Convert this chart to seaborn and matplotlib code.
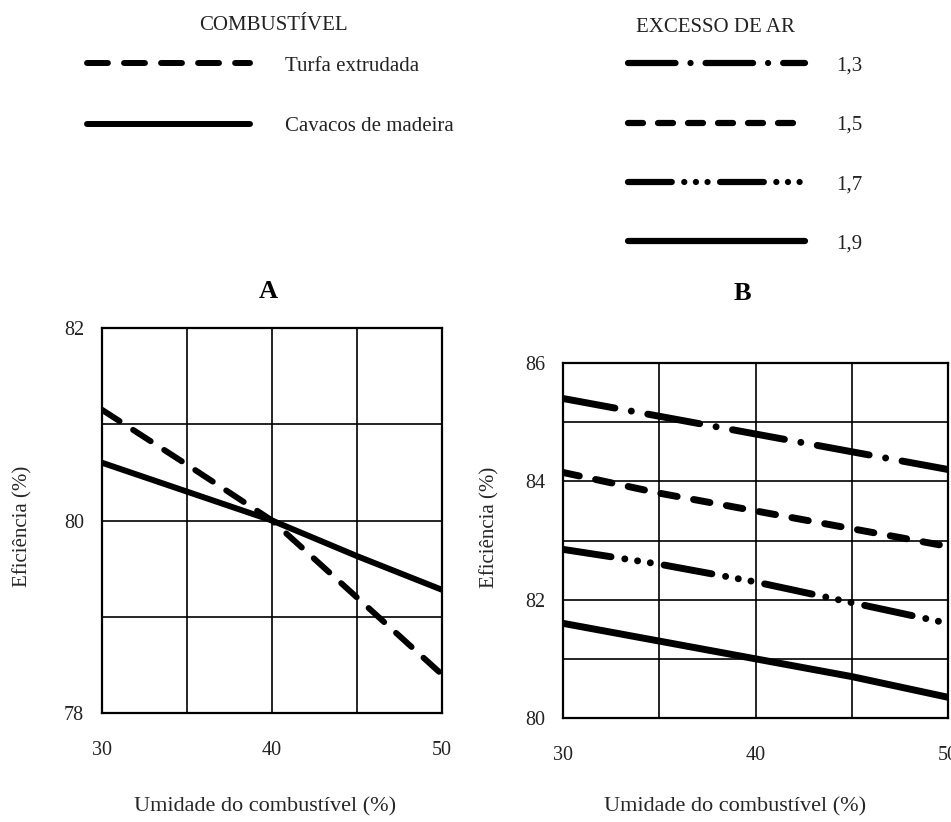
import numpy as np
import pandas as pd
import matplotlib.pyplot as plt
import seaborn as sns
from matplotlib.lines import Line2D
from matplotlib.ticker import MultipleLocator

# umidade do combustivel (%)
umidade = [30, 35, 40, 45, 50]

# painel A: eficiencia por combustivel
combustiveis = ['Turfa extrudada', 'Cavacos de madeira']
turfa = [81.15, 80.58, 80.0, 79.2, 78.4]
cavacos = [80.6, 80.3, 80.0, 79.63, 79.28]

# painel B: eficiencia por excesso de ar
excessos = ['1,3', '1,5', '1,7', '1,9']
ar_13 = [85.4, 85.1, 84.8, 84.5, 84.2]
ar_15 = [84.15, 83.8, 83.5, 83.2, 82.9]
ar_17 = [82.85, 82.6, 82.3, 81.95, 81.6]
ar_19 = [81.6, 81.3, 81.0, 80.7, 80.35]

df_a = pd.DataFrame({
    'umidade': umidade * 2,
    'eficiencia': turfa + cavacos,
    'combustivel': np.repeat(combustiveis, len(umidade)),
})
df_b = pd.DataFrame({
    'umidade': umidade * 4,
    'eficiencia': ar_13 + ar_15 + ar_17 + ar_19,
    'excesso': np.repeat(excessos, len(umidade)),
})

dash_a = {'Turfa extrudada': (3.5, 2.7), 'Cavacos de madeira': ''}
dash_b = {'1,3': (7.6, 2.4, 0.01, 2.4),
          '1,5': (2.4, 2.4),
          '1,7': (7.0, 2.0, 0.01, 1.85, 0.01, 1.85, 0.01, 2.0),
          '1,9': ''}

sns.set_style('white')
plt.rcParams['font.family'] = ['Liberation Serif', 'DejaVu Serif']
plt.rcParams['text.color'] = '#222222'

fig = plt.figure(figsize=(9.51, 8.22), dpi=100)
W, H = 951, 822


def px_axes(left, top, right, bottom):
    return fig.add_axes([left / W, 1 - bottom / H, (right - left) / W, (bottom - top) / H])


ax_a = px_axes(102, 328, 442, 713)
ax_b = px_axes(563, 363, 948, 718)

line_kw = dict(color='black', errorbar=None, legend=False,
               dash_capstyle='round', solid_capstyle='round')
sns.lineplot(data=df_a, x='umidade', y='eficiencia', style='combustivel',
             style_order=combustiveis, dashes=dash_a, lw=4.3, ax=ax_a, **line_kw)
sns.lineplot(data=df_b, x='umidade', y='eficiencia', style='excesso',
             style_order=excessos, dashes=dash_b, lw=5.0, ax=ax_b, **line_kw)

# eixos
ax_a.set_xlim(30, 50)
ax_a.set_ylim(78, 82)
ax_a.xaxis.set_major_locator(MultipleLocator(10))
ax_a.xaxis.set_minor_locator(MultipleLocator(5))
ax_a.yaxis.set_major_locator(MultipleLocator(2))
ax_a.yaxis.set_minor_locator(MultipleLocator(1))

ax_b.set_xlim(30, 50)
ax_b.set_ylim(80, 86)
ax_b.xaxis.set_major_locator(MultipleLocator(10))
ax_b.xaxis.set_minor_locator(MultipleLocator(5))
ax_b.yaxis.set_major_locator(MultipleLocator(2))
ax_b.yaxis.set_minor_locator(MultipleLocator(1))

for ax in (ax_a, ax_b):
    ax.grid(True, which='both', color='black', lw=1.2)
    for s in ax.spines.values():
        s.set_color('black')
        s.set_linewidth(1.6)
    ax.tick_params(axis='both', which='major', direction='out', colors='black',
                   labelcolor='#222222', labelsize=14.5, width=1.6)
    ax.tick_params(axis='x', which='major', length=10, pad=10)
    ax.tick_params(axis='x', which='minor', length=0)

ax_a.tick_params(axis='y', which='major', length=10, pad=3)
ax_a.tick_params(axis='y', which='minor', length=0)
ax_b.tick_params(axis='y', which='major', length=11, pad=2)
ax_b.tick_params(axis='y', which='minor', length=11, width=1.6, color='black')

ax_a.set_xlabel('Umidade do combustível (%)', fontsize=16)
ax_a.set_ylabel('Eficiência (%)', fontsize=15)
ax_a.xaxis.set_label_coords(0.479, -0.218)
ax_a.yaxis.set_label_coords(-0.203, 0.486)
ax_b.set_xlabel('Umidade do combustível (%)', fontsize=16)
ax_b.set_ylabel('Eficiência (%)', fontsize=15)
ax_b.xaxis.set_label_coords(0.447, -0.223)
ax_b.yaxis.set_label_coords(-0.164, 0.538)

fig.text(268 / W, 1 - 291 / H, 'A', ha='center', va='center',
         fontsize=19, fontweight='bold', color='black')
fig.text(742 / W, 1 - 294 / H, 'B', ha='center', va='center',
         fontsize=19, fontweight='bold', color='black')

# legendas
fig.text(273 / W, 1 - 25 / H, 'COMBUSTÍVEL', ha='center', va='center', fontsize=15)
fig.text(715 / W, 1 - 27 / H, 'EXCESSO DE AR', ha='center', va='center', fontsize=15)


def handle(d, lw):
    if d == '':
        return Line2D([], [], color='black', lw=lw, ls='-', solid_capstyle='round')
    return Line2D([], [], color='black', lw=lw, dashes=d, dash_capstyle='round')


leg_a = fig.legend([handle(dash_a[c], 4.3) for c in combustiveis], combustiveis,
                   loc='upper left', bbox_to_anchor=(87 / W, 1 - 56 / H),
                   frameon=False, fontsize=15, handlelength=7.8, handletextpad=1.7,
                   labelspacing=1.97, borderpad=0, borderaxespad=0)
leg_b = fig.legend([handle(dash_b[e], 4.5) for e in excessos], excessos,
                   loc='upper left', bbox_to_anchor=(628 / W, 1 - 56 / H),
                   frameon=False, fontsize=15, handlelength=8.5, handletextpad=1.5,
                   labelspacing=1.91, borderpad=0, borderaxespad=0)

fig.savefig('out.png', dpi=100, facecolor='white')
